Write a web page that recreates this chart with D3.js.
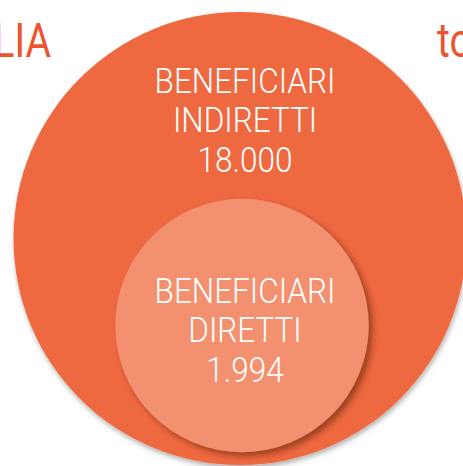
<!DOCTYPE html>
<html>
<head>
<meta charset="utf-8">
<script src="https://cdn.jsdelivr.net/npm/d3@7"></script>
<style>
  html, body { margin: 0; padding: 0; background: #fff; }
  svg { display: block; }
</style>
</head>
<body>
<svg id="chart"></svg>
<script>
// data
var group_names = ['INDIRETTI', 'DIRETTI'];
var group_values = [18000, 1994];
var group_prefix = 'BENEFICIARI';
var side_titles = ['ITALIA', 'totale'];

var width = 463, height = 466;
var svg = d3.select('#chart').attr('width', width).attr('height', height);

var defs = svg.append('defs');
var f1 = defs.append('filter').attr('id', 'shadow_big')
    .attr('x', '-10%').attr('y', '-10%').attr('width', '120%').attr('height', '120%');
f1.append('feDropShadow').attr('dx', 1).attr('dy', 3).attr('stdDeviation', 2.5)
    .attr('flood-color', '#000').attr('flood-opacity', 0.3);
var f2 = defs.append('filter').attr('id', 'shadow_small')
    .attr('x', '-15%').attr('y', '-15%').attr('width', '130%').attr('height', '130%');
f2.append('feDropShadow').attr('dx', 4).attr('dy', 4).attr('stdDeviation', 3)
    .attr('flood-color', '#5a1a05').attr('flood-opacity', 0.55);

// radius from value
var r_scale = d3.scalePow().exponent(0.264)
    .domain([0, d3.max(group_values)])
    .range([0, 226.5]);

var centres = [[240, 238.5], [242, 325.5]];
var fills = ['#ef6941', '#f3906f'];
var filters = ['url(#shadow_big)', 'url(#shadow_small)'];

svg.selectAll('circle.bubble')
    .data(group_values)
    .enter()
    .append('circle')
    .attr('class', 'bubble')
    .attr('cx', function (d, i) { return centres[i][0]; })
    .attr('cy', function (d, i) { return centres[i][1]; })
    .attr('r', function (d) { return r_scale(d); })
    .attr('fill', function (d, i) { return fills[i]; })
    .attr('filter', function (d, i) { return filters[i]; });

var fmt = d3.formatLocale({decimal: ',', thousands: '.', grouping: [3], currency: ['', '€']}).format(',');

// labels, condensed light font
var label_pos = [[245, 93], [245, 303]];
group_values.forEach(function (v, i) {
    var lines = [group_prefix, group_names[i], fmt(v)];
    var g = svg.append('g')
        .attr('transform', 'translate(' + label_pos[i][0] + ',' + label_pos[i][1] + ') scale(0.9,1)');
    lines.forEach(function (t, j) {
        g.append('text')
            .attr('x', 0)
            .attr('y', j * 39.5)
            .attr('text-anchor', 'middle')
            .attr('font-family', 'Roboto')
            .attr('font-weight', 300)
            .attr('font-size', 35)
            .attr('fill', '#fff')
            .text(t);
    });
});

// side titles, cut off by the page edge as in the original
svg.append('g').attr('transform', 'translate(51,57) scale(0.8,1)')
    .append('text')
    .attr('text-anchor', 'end')
    .attr('font-family', 'Roboto').attr('font-weight', 400)
    .attr('font-size', 49).attr('fill', '#ee5330')
    .text(side_titles[0]);
svg.append('g').attr('transform', 'translate(437,57) scale(0.8,1)')
    .append('text')
    .attr('text-anchor', 'start')
    .attr('font-family', 'Roboto').attr('font-weight', 400)
    .attr('font-size', 49).attr('fill', '#ee5330')
    .text(side_titles[1]);
</script>
</body>
</html>
